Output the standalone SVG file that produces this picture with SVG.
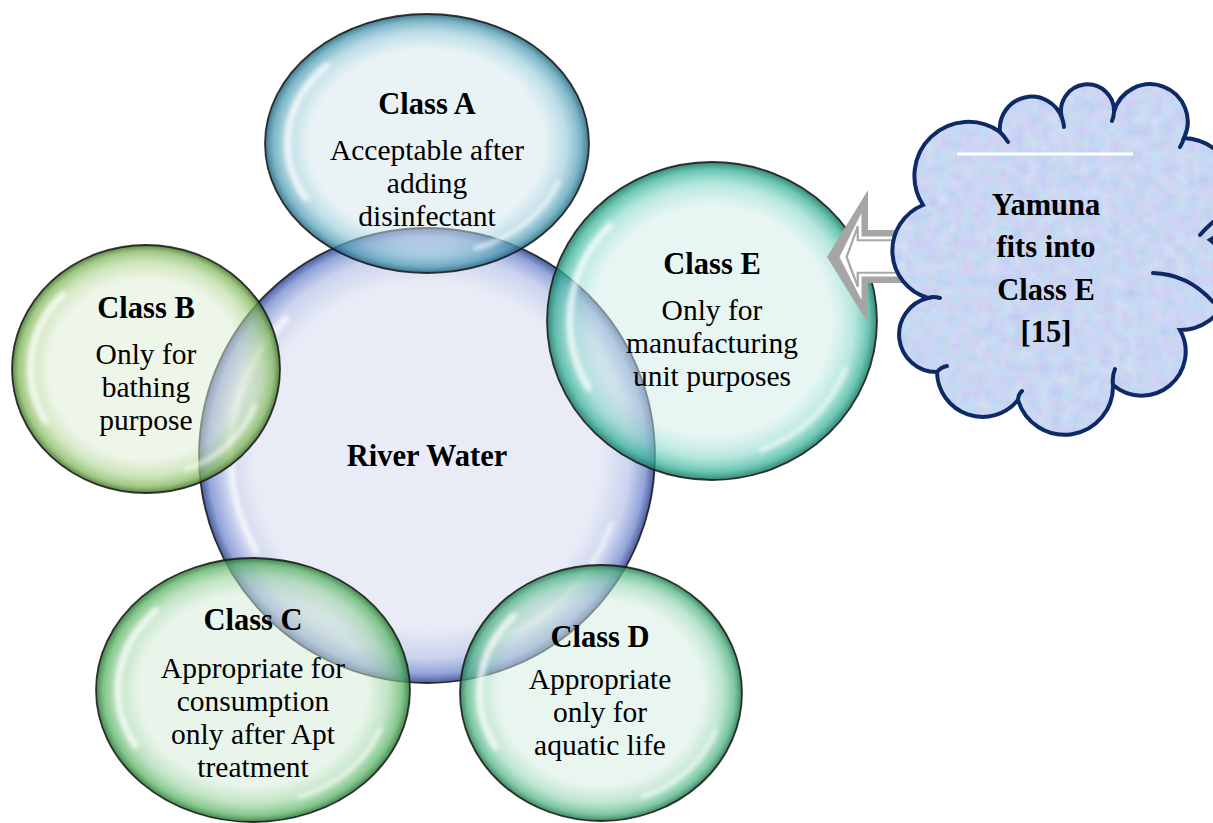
<svg xmlns="http://www.w3.org/2000/svg" width="1213" height="823" viewBox="0 0 1213 823">
<defs>
  <radialGradient id="gR" cx=".5" cy=".5" r=".5">
    <stop offset="0" stop-color="#e9ecf6"/>
    <stop offset=".76" stop-color="#e9ecf6"/>
    <stop offset=".89" stop-color="#cbd3ee"/>
    <stop offset=".96" stop-color="#93a4da"/>
    <stop offset="1" stop-color="#4a5c9c"/>
  </radialGradient>
  <radialGradient id="gA" cx=".5" cy=".5" r=".5">
    <stop offset="0" stop-color="#d3e7ed" stop-opacity=".5"/>
    <stop offset=".72" stop-color="#d3e7ed" stop-opacity=".5"/>
    <stop offset=".86" stop-color="#8fc6d6" stop-opacity=".6"/>
    <stop offset=".95" stop-color="#4f9cb5" stop-opacity=".75"/>
    <stop offset="1" stop-color="#1f5f77" stop-opacity=".85"/>
  </radialGradient>
  <radialGradient id="gB" cx=".5" cy=".5" r=".5">
    <stop offset="0" stop-color="#ddebd3" stop-opacity=".5"/>
    <stop offset=".72" stop-color="#ddebd3" stop-opacity=".5"/>
    <stop offset=".86" stop-color="#add58f" stop-opacity=".6"/>
    <stop offset=".95" stop-color="#7fb55a" stop-opacity=".75"/>
    <stop offset="1" stop-color="#3e6e25" stop-opacity=".85"/>
  </radialGradient>
  <radialGradient id="gC" cx=".5" cy=".5" r=".5">
    <stop offset="0" stop-color="#d3ebd5" stop-opacity=".5"/>
    <stop offset=".72" stop-color="#d3ebd5" stop-opacity=".5"/>
    <stop offset=".86" stop-color="#97d19d" stop-opacity=".6"/>
    <stop offset=".95" stop-color="#5bb466" stop-opacity=".75"/>
    <stop offset="1" stop-color="#24702f" stop-opacity=".85"/>
  </radialGradient>
  <radialGradient id="gD" cx=".5" cy=".5" r=".5">
    <stop offset="0" stop-color="#d3ebdf" stop-opacity=".5"/>
    <stop offset=".72" stop-color="#d3ebdf" stop-opacity=".5"/>
    <stop offset=".86" stop-color="#93d4b3" stop-opacity=".6"/>
    <stop offset=".95" stop-color="#4fb383" stop-opacity=".75"/>
    <stop offset="1" stop-color="#1f7049" stop-opacity=".85"/>
  </radialGradient>
  <radialGradient id="gE" cx=".5" cy=".5" r=".5">
    <stop offset="0" stop-color="#cfede7" stop-opacity=".5"/>
    <stop offset=".72" stop-color="#cfede7" stop-opacity=".5"/>
    <stop offset=".86" stop-color="#86d8c8" stop-opacity=".6"/>
    <stop offset=".95" stop-color="#38b299" stop-opacity=".75"/>
    <stop offset="1" stop-color="#14705e" stop-opacity=".85"/>
  </radialGradient>
  <filter id="soft" filterUnits="userSpaceOnUse" x="0" y="0" width="1213" height="823">
    <feGaussianBlur stdDeviation="2"/>
  </filter>
  <filter id="tex" x="0" y="0" width="100%" height="100%" color-interpolation-filters="sRGB">
    <feTurbulence type="fractalNoise" baseFrequency="0.08" numOctaves="3" seed="7" result="n"/>
    <feColorMatrix in="n" type="matrix" values="0.16 0 0 0 0.71  0 0.12 0 0 0.78  0 0 0.06 0 0.92  0 0 0 0 1" result="c"/>
    <feComposite in="c" in2="SourceGraphic" operator="in"/>
  </filter>
  <path id="cloudShape" d="M 923 205 A 54 54 0 0 1 1000 132 A 32 32 0 0 1 1062 118 A 26.5 26.5 0 1 1 1114 112 A 37.5 37.5 0 1 1 1184 138 A 55 55 0 0 1 1210 240 A 50 50 0 0 1 1180 330 A 44 44 0 0 1 1113 385 A 48.5 48.5 0 0 1 1018 400 A 45.6 45.6 0 0 1 937 372 A 37.5 37.5 0 0 1 928 298 A 49.3 49.3 0 0 1 923 205 Z"/>
</defs>
<style>
  .t{font-family:"Liberation Serif","Times New Roman",serif;font-size:29.5px;fill:#000;text-anchor:middle}
  .b{font-weight:bold;font-size:30.5px}
  .rim{stroke:#161616;stroke-width:1.8;stroke-opacity:.85}
  .hl{fill:none;stroke:#fff;stroke-linecap:round}
  .h1{stroke-width:7;stroke-opacity:.7}
  .h2{stroke-width:5;stroke-opacity:.6}
  .cl{fill:none;stroke:#0e2a66;stroke-width:4;stroke-linecap:round}
</style>

<g id="river-water">
  <ellipse cx="427" cy="455.5" rx="228" ry="227.5" fill="url(#gR)" class="rim"/>
  <g filter="url(#soft)">
    <path class="hl h1" d="M 285.6 319 A 196.1 195.7 0 0 0 256 551"/>
    <path class="hl h2" d="M 611.7 523.8 A 196.1 195.7 0 0 1 495.4 639.8"/>
  </g>
  <text class="t b" x="427" y="466">River Water</text>
</g>

<g id="class-a">
  <ellipse cx="427" cy="143.5" rx="162" ry="129.5" fill="url(#gA)" class="rim"/>
  <g filter="url(#soft)">
    <path class="hl h1" d="M 326.6 65.8 A 139.3 111.4 0 0 0 305.5 197.9"/>
    <path class="hl h2" d="M 558.2 182.4 A 139.3 111.4 0 0 1 475.6 248.4"/>
  </g>
  <text class="t"><tspan class="b" x="427" y="114">Class A</tspan><tspan x="427" y="160">Acceptable after</tspan><tspan x="427" y="193">adding</tspan><tspan x="427" y="226">disinfectant</tspan></text>
</g>

<g id="class-b">
  <ellipse cx="146" cy="369" rx="134" ry="124" fill="url(#gB)" class="rim"/>
  <g filter="url(#soft)">
    <path class="hl h1" d="M 62.9 294.6 A 115.2 106.6 0 0 0 45.5 421.1"/>
    <path class="hl h2" d="M 254.5 406.2 A 115.2 106.6 0 0 1 186.2 469.4"/>
  </g>
  <text class="t"><tspan class="b" x="146" y="318">Class B</tspan><tspan x="146" y="364">Only for</tspan><tspan x="146" y="397">bathing</tspan><tspan x="146" y="430">purpose</tspan></text>
</g>

<g id="class-c">
  <ellipse cx="253" cy="690" rx="157" ry="132" fill="url(#gC)" class="rim"/>
  <g filter="url(#soft)">
    <path class="hl h1" d="M 155.7 610.8 A 135 113.5 0 0 0 135.3 745.4"/>
    <path class="hl h2" d="M 380.2 729.6 A 135 113.5 0 0 1 300.1 796.9"/>
  </g>
  <text class="t"><tspan class="b" x="253" y="630">Class C</tspan><tspan x="253" y="678">Appropriate for</tspan><tspan x="253" y="711">consumption</tspan><tspan x="253" y="744">only after Apt</tspan><tspan x="253" y="777">treatment</tspan></text>
</g>

<g id="class-d">
  <ellipse cx="601" cy="693" rx="141" ry="128" fill="url(#gD)" class="rim"/>
  <g filter="url(#soft)">
    <path class="hl h1" d="M 513.6 616.2 A 121.3 110.1 0 0 0 495.3 746.8"/>
    <path class="hl h2" d="M 715.2 731.4 A 121.3 110.1 0 0 1 643.3 796.7"/>
  </g>
  <text class="t"><tspan class="b" x="600" y="647">Class D</tspan><tspan x="600" y="689">Appropriate</tspan><tspan x="600" y="722">only for</tspan><tspan x="600" y="755">aquatic life</tspan></text>
</g>

<g id="class-e">
  <ellipse cx="712" cy="321" rx="165" ry="159" fill="url(#gE)" class="rim"/>
  <g filter="url(#soft)">
    <path class="hl h1" d="M 609.7 225.6 A 141.9 136.7 0 0 0 588.3 387.8"/>
    <path class="hl h2" d="M 845.7 368.7 A 141.9 136.7 0 0 1 761.5 449.8"/>
  </g>
  <text class="t"><tspan class="b" x="712" y="274">Class E</tspan><tspan x="712" y="320">Only for</tspan><tspan x="712" y="353">manufacturing</tspan><tspan x="712" y="386">unit purposes</tspan></text>
</g>

<g id="connectors">
  <g id="arrow-yamuna-to-class-e">
    <polygon points="827,257 868,190 868,230 925,230 925,283 868,283 868,323" fill="#a6a6a6"/>
    <polygon points="839.5,257 861.5,213 861.5,236.5 925,236.5 925,276.5 861.5,276.5 861.5,300" fill="#fff"/>
    <polygon points="846.6,257 857.75,226.3 857.75,240.25 925,240.25 925,272.75 857.75,272.75 857.75,286.7" fill="#fff" stroke="#a6a6a6" stroke-width="2.2"/>
  </g>
</g>

<g id="yamuna-cloud">
  <use href="#cloudShape" fill="#c9d8f2"/>
  <use href="#cloudShape" filter="url(#tex)"/>
  <use href="#cloudShape" class="cl"/>
  <path class="cl" d="M 1000 132 A 54 54 0 0 1 1008 142 M 1062 118 A 32 32 0 0 1 1064 127 M 1114 112 A 26.5 26.5 0 0 1 1112 121 M 1184 138 A 37.5 37.5 0 0 1 1180 147 M 1213 222 Q 1206 228 1200 235 M 1153 273 Q 1188 274 1213 302 M 1113 385 Q 1112 376 1115 369 M 1018 400 Q 1018 395 1022 391 M 937 372 Q 941 367 947 366 M 928 298 Q 933 296 940 298"/>
  <path d="M 957 154 H 1133" stroke="#fff" stroke-width="3"/>
  <text class="t b"><tspan x="1046" y="215">Yamuna</tspan><tspan x="1046" y="257">fits into</tspan><tspan x="1046" y="300">Class E</tspan><tspan x="1046" y="342">[15]</tspan></text>
</g>
</svg>
